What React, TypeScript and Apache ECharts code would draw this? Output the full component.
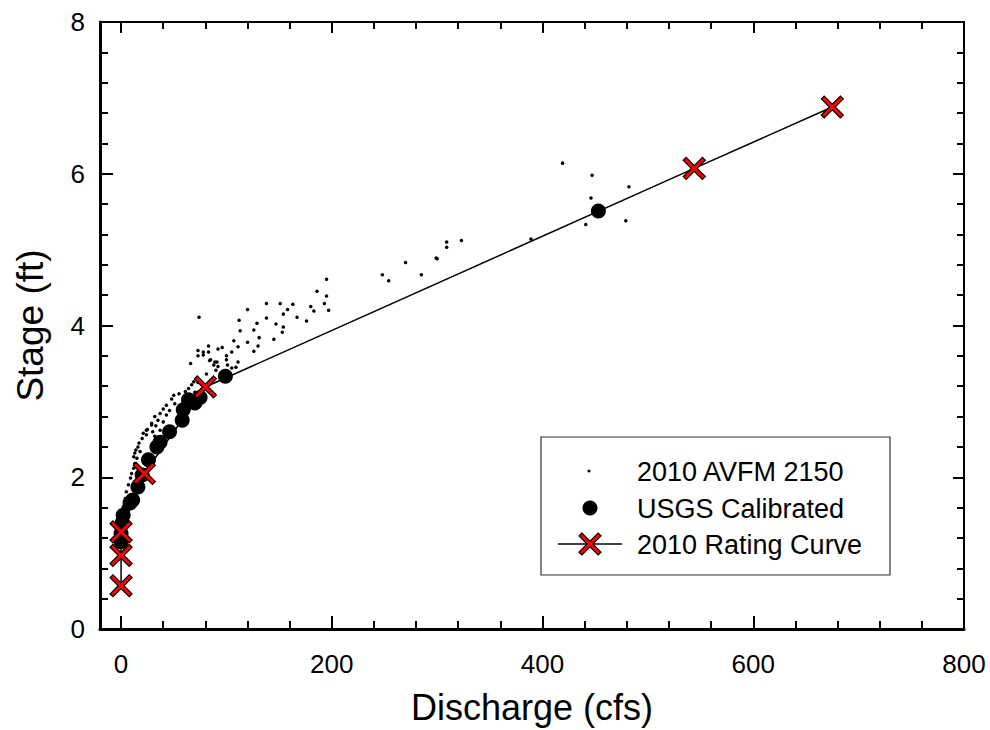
import React, { useEffect, useRef } from "react";
import * as echarts from "echarts";

// 2010 AVFM 2150 readings: [discharge (cfs), stage (ft)]
const avfmPoints: [number, number][] = [
  [419, 6.14], [447, 5.98], [482, 5.83], [446, 5.68], [441, 5.33], [479, 5.38],
  [389, 5.14], [323, 5.12], [309, 5.10], [309, 5.03], [299, 4.89], [300, 4.88],
  [270, 4.83], [285, 4.67], [248, 4.67], [254, 4.59],
  [195, 4.61], [186, 4.45], [195, 4.39], [193, 4.29], [197, 4.20], [180, 4.25],
  [183, 4.19], [176, 4.06], [167, 4.11], [163, 4.28], [158, 4.21], [151, 4.29],
  [154, 4.15], [138, 4.29], [138, 4.10], [120, 4.21], [147, 4.02], [154, 3.98],
  [153, 3.91], [145, 3.82], [129, 4.03], [126, 3.94], [131, 3.84], [112, 4.07],
  [113, 3.93], [120, 3.78], [130, 3.73], [126, 3.66], [107, 3.80], [111, 3.72],
  [105, 3.65], [74, 4.11], [96, 3.71], [92, 3.69], [83, 3.73], [83, 3.65],
  [73, 3.67], [78, 3.61], [100, 3.60], [100, 3.55], [84, 3.54], [89, 3.52],
  [88, 3.48], [101, 3.48], [105, 3.44], [109, 3.45], [111, 3.52], [90, 3.41],
  [66, 3.50],
  [73, 3.60], [78, 3.65], [85, 3.55], [91, 3.52], [92, 3.46], [81, 3.36],
  [73, 3.25], [69, 3.26], [67, 3.22], [64, 3.17], [61, 3.13], [55, 3.10],
  [50, 3.08], [48, 3.03], [51, 2.97], [43, 2.95], [40, 2.90], [46, 2.88],
  [37, 2.84], [43, 2.82], [32, 2.80], [35, 2.75], [40, 2.73], [29, 2.71],
  [33, 2.68], [25, 2.63], [30, 2.60], [37, 2.62], [24, 2.56], [32, 2.54],
  [29, 2.69], [24, 2.62], [21, 2.58], [20, 2.51], [17, 2.45], [16, 2.40],
  [14, 2.36], [18, 2.34], [13, 2.32], [12, 2.27], [15, 2.25], [13, 2.18],
  [12, 2.12], [10, 2.05], [9, 1.99], [7, 1.90], [5, 1.81], [4, 1.72],
  [2, 1.61], [1, 1.52], [0, 1.44], [60, 3.0], [66, 3.08], [70, 3.12],
];

// USGS calibrated measurements
const usgsPoints: [number, number][] = [
  [0, 1.15], [0, 1.26], [1, 1.40], [2, 1.50], [8.5, 1.66], [11, 1.70],
  [16, 1.87], [20, 2.03], [26, 2.23], [34, 2.40], [37, 2.46], [46, 2.60],
  [58, 2.75], [59, 2.89], [64, 3.02], [70, 2.98], [75, 3.05], [99, 3.33],
  [453, 5.51],
];

// 2010 rating curve nodes
const ratingPoints: [number, number][] = [
  [0, 0.57], [0, 0.97], [0, 1.28], [22, 2.05], [80, 3.19], [544, 6.07], [675, 6.88],
];

const xMajorTicks = [0, 200, 400, 600, 800];
const xMinorTicks = [40, 80, 120, 160, 240, 280, 320, 360, 440, 480, 520, 560, 640, 680, 720, 760];

const seriesNames = ["2010 AVFM 2150", "USGS Calibrated", "2010 Rating Curve"];

const FONT = "'Liberation Sans', Arial, Helvetica, sans-serif";
const CROSS_PTS: [number, number][] = [
  [0, 13], [13, 0], [50, 37], [87, 0], [100, 13], [63, 50],
  [100, 87], [87, 100], [50, 63], [13, 100], [0, 87], [37, 50],
];
const CROSS_PATH =
  "path://" +
  CROSS_PTS.map((p, i) => (i === 0 ? "M" : "L") + p[0] + "," + p[1]).join("") +
  "Z";

export default function App() {
  const ref = useRef<HTMLDivElement>(null);

  useEffect(() => {
    if (!ref.current) return;
    const chart = echarts.init(ref.current, undefined, { renderer: "svg" });

    const xBase = {
      type: "value" as const,
      min: -20,
      max: 800,
      splitLine: { show: false },
      axisLine: { onZero: false, lineStyle: { color: "#000", width: 2.5 } },
    };
    const yBase = {
      type: "value" as const,
      min: 0,
      max: 8,
      interval: 2,
      splitLine: { show: false },
      axisLine: { onZero: false, lineStyle: { color: "#000", width: 2.5 } },
      axisTick: { inside: true, length: 13, lineStyle: { color: "#000", width: 2 } },
      minorTick: { show: true, splitNumber: 5, length: 8, lineStyle: { color: "#000", width: 2 } },
    };

    const crossSize = 22;
    const cx = 590, cy = 544;
    const legendCross = CROSS_PTS.map((p) => [
      cx - crossSize / 2 + (p[0] * crossSize) / 100,
      cy - crossSize / 2 + (p[1] * crossSize) / 100,
    ]);

    const option: any = {
      animation: false,
      backgroundColor: "#fff",
      textStyle: { fontFamily: FONT },
      grid: { left: 100, right: 26, top: 22, bottom: 101 },
      xAxis: [
        {
          ...xBase,
          position: "bottom",
          name: "Discharge (cfs)",
          nameLocation: "middle",
          nameGap: 60,
          nameTextStyle: { fontSize: 36, color: "#000", fontFamily: FONT },
          axisLine: { onZero: false, lineStyle: { color: "#000", width: 3 } },
          axisTick: {
            inside: true, length: 13, customValues: xMajorTicks,
            lineStyle: { color: "#000", width: 2 },
          },
          axisLabel: {
            customValues: xMajorTicks, margin: 22, fontSize: 26, color: "#000", fontFamily: FONT,
          },
        },
        {
          ...xBase,
          position: "bottom",
          axisLine: { show: false, onZero: false },
          axisTick: { inside: true, length: 8, customValues: xMinorTicks, lineStyle: { color: "#000", width: 2 } },
          axisLabel: { show: false },
        },
        {
          ...xBase,
          position: "top",
          axisLine: { onZero: false, lineStyle: { color: "#000", width: 2 } },
          axisTick: { inside: true, length: 11, customValues: xMajorTicks, lineStyle: { color: "#000", width: 2 } },
          axisLabel: { show: false },
        },
        {
          ...xBase,
          position: "top",
          axisLine: { show: false, onZero: false },
          axisTick: { inside: true, length: 7, customValues: xMinorTicks, lineStyle: { color: "#000", width: 2 } },
          axisLabel: { show: false },
        },
      ],
      yAxis: [
        {
          ...yBase,
          position: "left",
          name: "Stage (ft)",
          nameLocation: "middle",
          nameGap: 51,
          nameTextStyle: { fontSize: 37, color: "#000", fontFamily: FONT },
          axisLine: { onZero: false, lineStyle: { color: "#000", width: 3 } },
          axisLabel: { margin: 15, fontSize: 26, color: "#000", fontFamily: FONT },
        },
        {
          ...yBase,
          position: "right",
          axisLine: { onZero: false, lineStyle: { color: "#000", width: 2 } },
          axisTick: { inside: true, length: 11, lineStyle: { color: "#000", width: 2 } },
          minorTick: { show: true, splitNumber: 5, length: 7, lineStyle: { color: "#000", width: 2 } },
          axisLabel: { show: false },
        },
      ],
      series: [
        {
          name: seriesNames[0],
          type: "scatter",
          data: avfmPoints,
          symbol: "circle",
          symbolSize: 3.5,
          itemStyle: { color: "#000", opacity: 1 },
          z: 2,
        },
        {
          name: seriesNames[1],
          type: "scatter",
          data: usgsPoints,
          symbol: "circle",
          symbolSize: 15,
          itemStyle: { color: "#000", opacity: 1 },
          z: 3,
        },
        {
          name: seriesNames[2],
          type: "line",
          data: ratingPoints,
          symbol: CROSS_PATH,
          symbolSize: crossSize,
          showAllSymbol: true,
          lineStyle: { color: "#000", width: 1.5 },
          itemStyle: { color: "#ff0000", borderColor: "#000", borderWidth: 1.2, opacity: 1 },
          z: 4,
        },
      ],
      graphic: [
        {
          type: "group",
          z: 100,
          children: [
            {
              type: "rect",
              shape: { x: 541, y: 437, width: 349, height: 138 },
              style: { fill: "#fff", stroke: "#333", lineWidth: 1.2 },
            },
            {
              type: "circle",
              shape: { cx: 589, cy: 471, r: 1.5 },
              style: { fill: "#000" },
            },
            {
              type: "text",
              x: 637, y: 472,
              style: { text: seriesNames[0], font: `27px ${FONT}`, fill: "#000", verticalAlign: "middle" },
            },
            {
              type: "circle",
              shape: { cx: 590, cy: 508, r: 7.5 },
              style: { fill: "#000" },
            },
            {
              type: "text",
              x: 637, y: 509,
              style: { text: seriesNames[1], font: `27px ${FONT}`, fill: "#000", verticalAlign: "middle" },
            },
            {
              type: "line",
              shape: { x1: 558, y1: cy, x2: 622, y2: cy },
              style: { stroke: "#000", lineWidth: 1.5 },
            },
            {
              type: "polygon",
              shape: { points: legendCross },
              style: { fill: "#ff0000", stroke: "#000", lineWidth: 1.2 },
            },
            {
              type: "text",
              x: 637, y: 545,
              style: { text: seriesNames[2], font: `27px ${FONT}`, fill: "#000", verticalAlign: "middle" },
            },
          ],
        },
      ],
    };

    chart.setOption(option);
    return () => chart.dispose();
  }, []);

  return (
    <div
      ref={ref}
      style={{ position: "absolute", left: 0, top: 0, width: 990, height: 730, background: "#fff" }}
    />
  );
}
